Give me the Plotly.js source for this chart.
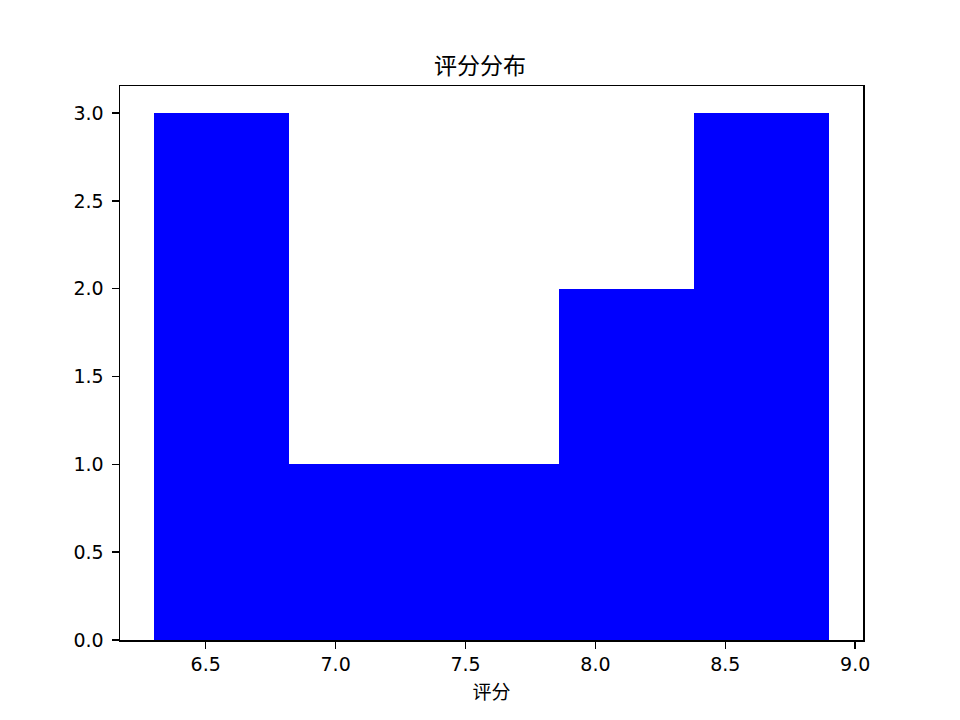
<!DOCTYPE html>
<html>
<head>
<meta charset="utf-8">
<script src="https://cdn.plot.ly/plotly-3.0.1.min.js"></script>
<style>html,body{margin:0;padding:0;background:#fff;}#chart{width:960px;height:720px;}</style>
</head>
<body>
<div id="chart"></div>
<script>
const binEdges = [6.3, 6.82, 7.34, 7.86, 8.38, 8.9];
const counts = [3, 1, 1, 2, 3];
const titleText = "评分分布";
const xLabel = "评分";
const xTicks = [6.5, 7.0, 7.5, 8.0, 8.5, 9.0];
const yTicks = [0.0, 0.5, 1.0, 1.5, 2.0, 2.5, 3.0];

const centers = counts.map((c, i) => (binEdges[i] + binEdges[i + 1]) / 2);
const widths = counts.map((c, i) => binEdges[i + 1] - binEdges[i]);

const font = "DejaVu Sans, Noto Sans CJK SC, sans-serif";
const trace = {
  type: "bar",
  x: centers,
  y: counts,
  width: widths,
  marker: {color: "#0000ff", line: {width: 0}},
  hoverinfo: "x+y"
};
const layout = {
  width: 960, height: 720,
  paper_bgcolor: "#fff", plot_bgcolor: "#fff",
  margin: {l: 120, r: 97, t: 86, b: 80, pad: 0},
  showlegend: false,
  bargap: 0,
  font: {family: font, size: 19, color: "#000"},
  title: {text: titleText, font: {family: font, size: 23, color: "#000"}, x: 0.5, xanchor: "center", y: 1 - 66/720, yanchor: "middle"},
  xaxis: {
    range: [6.17, 9.03],
    tickvals: xTicks, ticktext: xTicks.map(v => v.toFixed(1)),
    ticks: "outside", ticklen: 7, tickwidth: 1.5, tickcolor: "#000",
    showgrid: false, zeroline: false,
    showline: true, mirror: true, linecolor: "#000", linewidth: 1.5,
    tickfont: {family: font, size: 19, color: "#000"},
    title: {text: xLabel, font: {family: font, size: 19, color: "#000"}, standoff: 11}
  },
  yaxis: {
    range: [0, 3.154],
    tickvals: yTicks, ticktext: yTicks.map(v => v.toFixed(1)),
    ticks: "outside", ticklen: 7, tickwidth: 1.5, tickcolor: "#000",
    ticklabelstandoff: 4,
    showgrid: false, zeroline: false,
    showline: true, mirror: true, linecolor: "#000", linewidth: 1.5,
    tickfont: {family: font, size: 19, color: "#000"}
  }
};
Plotly.newPlot("chart", [trace], layout, {displayModeBar: false, staticPlot: true});
</script>
</body>
</html>
